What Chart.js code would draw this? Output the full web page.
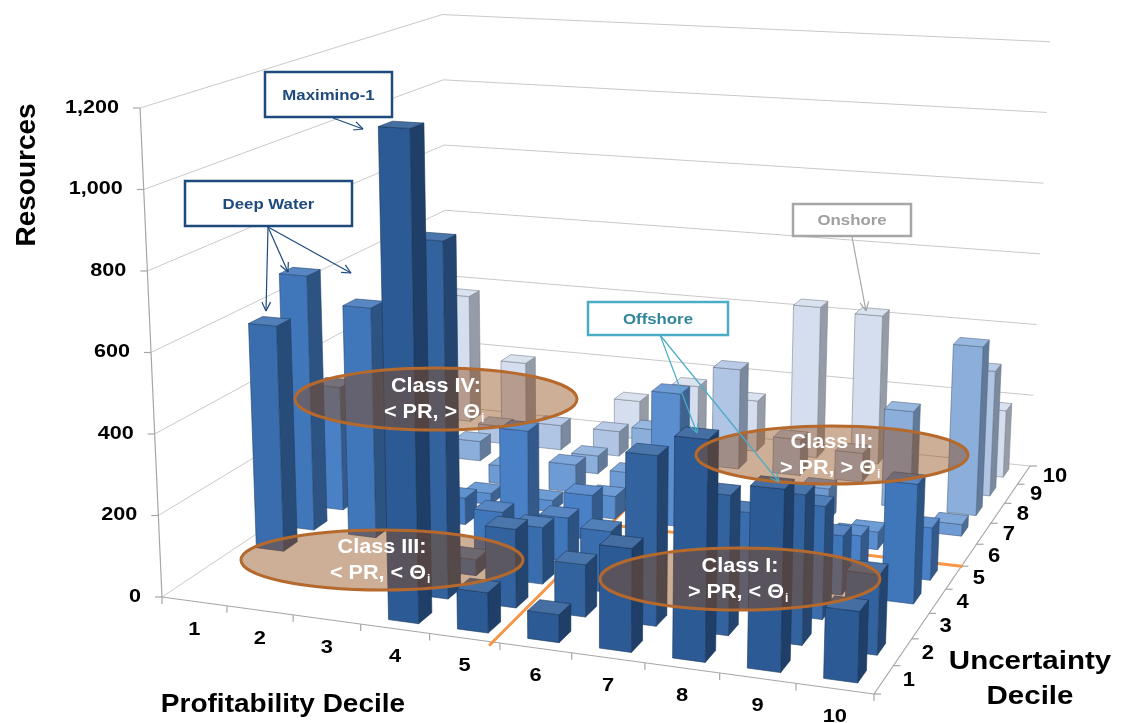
<!DOCTYPE html>
<html>
<head>
<meta charset="utf-8">
<script src="https://cdn.jsdelivr.net/npm/chart.js@4.4.1/dist/chart.umd.min.js"></script>
<style>
  html, body { margin: 0; padding: 0; background: #fff; }
  #wrap { width: 1122px; height: 723px; }
</style>
</head>
<body>
<div id="wrap"><canvas id="chart" width="1122" height="723"></canvas></div>
<script>
/**
 * 3D column chart: resources by profitability decile x uncertainty decile
 */
const profitDeciles = [1, 2, 3, 4, 5, 6, 7, 8, 9, 10];
const uncertaintyDeciles = [1, 2, 3, 4, 5, 6, 7, 8, 9, 10];
const resourceTicks = [0, 200, 400, 600, 800, 1000, 1200];

// resources per profitability decile, one row per uncertainty decile
const resU1  = [0, 0, 0, 1180, 95, 65, 240, 510, 415, 160];
const resU2  = [0, 0, 0, 875, 190, 125, 405, 330, 350, 185];
const resU3  = [580, 0, 0, 40, 140, 150, 0, 235, 270, 0];
const resU4  = [670, 600, 0, 105, 110, 0, 0, 0, 145, 290];
const resU5  = [330, 0, 70, 265, 115, 0, 0, 0, 90, 130];
const resU6  = [0, 0, 30, 30, 60, 350, 0, 0, 45, 0];
const resU7  = [0, 0, 50, 75, 70, 0, 0, 85, 0, 30];
const resU8  = [0, 55, 0, 50, 140, 0, 0, 0, 260, 450];
const resU9  = [0, 50, 70, 70, 0, 280, 100, 80, 0, 340];
const resU10 = [375, 190, 0, 110, 170, 145, 430, 420, 0, 185];

const rows = [resU1, resU2, resU3, resU4, resU5, resU6, resU7, resU8, resU9, resU10];
const rowColors = ['#2C5A95', '#32639F', '#396DAD', '#4076BA', '#4A81C6',
                   '#5A8ECF', '#6F9BD4', '#8BAEDB', '#B0C4E3', '#D5DEEE'];

const classLabels = [
  { title: 'Class IV:', rule: ['< PR, > Θ', 'i'], cx: 436, cy: 399, rx: 141, ry: 31 },
  { title: 'Class III:', rule: ['< PR, < Θ', 'i'], cx: 382, cy: 560, rx: 141, ry: 30 },
  { title: 'Class I:', rule: ['> PR, < Θ', 'i'], cx: 740, cy: 579, rx: 140, ry: 31 },
  { title: 'Class II:', rule: ['> PR, > Θ', 'i'], cx: 832, cy: 455, rx: 136, ry: 29 },
];

const callouts = [
  { text: 'Maximino-1', box: [265, 72, 127, 45], color: '#1F4A7E', text_color: '#1F4A7E',
    from: [333, 118], to: [[363, 129]] },
  { text: 'Deep Water', box: [185, 181, 167, 45], color: '#1F4A7E', text_color: '#1F4A7E',
    from: [268, 227], to: [[266, 311], [288, 272], [351, 273]] },
  { text: 'Offshore', box: [588, 302, 140, 33], color: '#4BACC6', text_color: '#31869B',
    from: [660, 335], to: [[697, 433], [779, 482]] },
  { text: 'Onshore', box: [793, 204, 118, 32], color: '#A6A6A6', text_color: '#A0A0A0',
    from: [852, 237], to: [[866, 311]] },
];

// floor corners on screen (front-left, front-right, back-right, back-left)
const FLOOR = { fl: [162, 597], fr: [874, 694], br: [1030, 466], bl: [448, 406] };
const KEY_X = 584, KEY_D = 9400;   // slight keystone of the verticals
const BAR_FRAC = 0.44;
const TEXT_SX = 1.15;
const FONT = '"Liberation Sans", Arial, sans-serif';

const squareToQuad = (p0, p1, p2, p3) => {
  const dx1 = p1[0] - p2[0], dx2 = p3[0] - p2[0], dx3 = p0[0] - p1[0] + p2[0] - p3[0];
  const dy1 = p1[1] - p2[1], dy2 = p3[1] - p2[1], dy3 = p0[1] - p1[1] + p2[1] - p3[1];
  const den = dx1 * dy2 - dx2 * dy1;
  const g = (dx3 * dy2 - dx2 * dy3) / den;
  const h = (dx1 * dy3 - dx3 * dy1) / den;
  return {
    a: p1[0] - p0[0] + g * p1[0], b: p3[0] - p0[0] + h * p3[0], c: p0[0],
    d: p1[1] - p0[1] + g * p1[1], e: p3[1] - p0[1] + h * p3[1], f: p0[1], g, h,
  };
};
const H = squareToQuad(FLOOR.fl, FLOOR.fr, FLOOR.br, FLOOR.bl);

const shade = (hex, k) => {
  const n = parseInt(hex.slice(1), 16);
  const ch = [(n >> 16) & 255, (n >> 8) & 255, n & 255].map((c) =>
    Math.max(0, Math.min(255, Math.round(k >= 1 ? c + (255 - c) * (k - 1) : c * k))));
  return `rgb(${ch[0]},${ch[1]},${ch[2]})`;
};

const text = (ctx, str, x, y, font, color, align = 'center', sx = TEXT_SX) => {
  ctx.save();
  ctx.font = font;
  ctx.fillStyle = color;
  ctx.textAlign = align;
  ctx.textBaseline = 'middle';
  ctx.translate(x, y);
  ctx.scale(sx, 1);
  ctx.fillText(str, 0, 0);
  ctx.restore();
};

const line = (ctx, a, b, color, width) => {
  ctx.beginPath();
  ctx.moveTo(a[0], a[1]);
  ctx.lineTo(b[0], b[1]);
  ctx.strokeStyle = color;
  ctx.lineWidth = width;
  ctx.stroke();
};

const arrow = (ctx, a, b, color) => {
  line(ctx, a, b, color, 1.2);
  const ang = Math.atan2(b[1] - a[1], b[0] - a[0]);
  [-0.45, 0.45].forEach((d) => {
    line(ctx, b, [b[0] - 10 * Math.cos(ang + d), b[1] - 10 * Math.sin(ang + d)], color, 1.2);
  });
};

const poly = (ctx, pts, fill, stroke) => {
  ctx.beginPath();
  pts.forEach((p, i) => (i ? ctx.lineTo(p[0], p[1]) : ctx.moveTo(p[0], p[1])));
  ctx.closePath();
  ctx.fillStyle = fill;
  ctx.fill();
  if (stroke) { ctx.strokeStyle = stroke; ctx.lineWidth = 0.6; ctx.stroke(); }
};

const bars3d = {
  id: 'bars3d',
  afterDraw(chart) {
    const { ctx, chartArea: area } = chart;
    const xs = chart.scales.x, us = chart.scales.u, ys = chart.scales.y;
    const sOf = (p) => (xs.getPixelForValue(p) - area.left) / area.width;
    const tOf = (u) => (us.getPixelForValue(u) - area.left) / area.width;

    // floor (s,t) + value -> screen
    const proj = (s, t, v) => {
      const w = H.g * s + H.h * t + 1;
      const x = (H.a * s + H.b * t + H.c) / w;
      const y = (H.d * s + H.e * t + H.f) / w;
      const hp = (ys.getPixelForValue(0) - ys.getPixelForValue(v)) / w;
      return [x + (x - KEY_X) * hp / KEY_D, y - hp];
    };

    ctx.save();

    // wall gridlines
    resourceTicks.forEach((v) => {
      line(ctx, proj(0, 0, v), proj(0, 1, v), '#C9C9C9', 1);
      line(ctx, proj(0, 1, v), proj(1, 1, v), '#C9C9C9', 1);
    });

    // vertical axis with ticks and labels
    const yMax = resourceTicks[resourceTicks.length - 1];
    line(ctx, proj(0, 0, 0), proj(0, 0, yMax), '#A6A6A6', 1.2);
    resourceTicks.forEach((v) => {
      const p = proj(0, 0, v);
      line(ctx, [p[0] - 7, p[1]], p, '#A6A6A6', 1.2);
      text(ctx, v.toLocaleString('en-US'), p[0] - 21, p[1], `bold 18px ${FONT}`, '#000', 'right', 1.2);
    });

    // floor edges with ticks
    const s0 = sOf(0.5), s1 = sOf(10.5), t0 = tOf(0.5), t1 = tOf(10.5);
    line(ctx, proj(s0, t0, 0), proj(s1, t0, 0), '#A6A6A6', 1.2);
    line(ctx, proj(s1, t0, 0), proj(s1, t1, 0), '#A6A6A6', 1.2);
    for (let k = 0; k <= profitDeciles.length; k++) {
      const p = proj(sOf(k + 0.5), t0, 0);
      line(ctx, p, [p[0], p[1] + 7], '#A6A6A6', 1.2);
      const q = proj(s1, tOf(k + 0.5), 0);
      line(ctx, q, [q[0] + 7, q[1]], '#A6A6A6', 1.2);
    }
    profitDeciles.forEach((p) => {
      const pt = proj(sOf(p), t0, 0);
      text(ctx, String(p), pt[0], pt[1] + 28, `bold 19px ${FONT}`, '#000');
    });
    uncertaintyDeciles.forEach((u) => {
      const pt = proj(s1, tOf(u), 0);
      text(ctx, String(u), pt[0] + 19, pt[1] + 1, `bold 20px ${FONT}`, '#000', 'left', 1.1);
    });

    // class threshold lines on the floor
    ctx.lineCap = 'round';
    line(ctx, proj(0.49, -0.01, 0), proj(0.47, 0.6, 0), '#F79646', 3);
    line(ctx, proj(0.24, 0.5, 0), proj(1.0, 0.5, 0), '#F79646', 3);
    ctx.lineCap = 'butt';

    // bars, back to front
    const half = (BAR_FRAC * (sOf(1.5) - sOf(0.5))) / 2;
    const bars = [];
    chart.data.datasets.forEach((ds, i) => {
      ds.data.forEach((pt) => {
        if (pt.y > 0) bars.push({ s: sOf(pt.x), t: tOf(ds.u), v: pt.y, color: rowColors[i] });
      });
    });
    bars.sort((a, b) => (b.t - a.t) || (a.s - b.s));
    bars.forEach((b) => {
      const sa = b.s - half, sb = b.s + half, ta = b.t - half, tb = b.t + half;
      const f0 = proj(sa, ta, 0), f1 = proj(sb, ta, 0), r1 = proj(sb, tb, 0);
      const T00 = proj(sa, ta, b.v), T10 = proj(sb, ta, b.v);
      const T11 = proj(sb, tb, b.v), T01 = proj(sa, tb, b.v);
      const edge = shade(b.color, 0.6);
      poly(ctx, [f1, r1, T11, T10], shade(b.color, 0.7), edge);
      poly(ctx, [f0, f1, T10, T00], b.color, edge);
      poly(ctx, [T00, T10, T11, T01], shade(b.color, 1.12), edge);
    });

    // class ellipses
    classLabels.forEach((c) => {
      ctx.beginPath();
      ctx.ellipse(c.cx, c.cy, c.rx, c.ry, 0, 0, Math.PI * 2);
      ctx.fillStyle = 'rgba(145,75,25,0.45)';
      ctx.fill();
      ctx.strokeStyle = '#B5692C';
      ctx.lineWidth = 3;
      ctx.stroke();
      text(ctx, c.title, c.cx, c.cy - 13, `bold 20px ${FONT}`, '#fff', 'center', 1.08);
      ctx.save();
      ctx.font = `bold 20px ${FONT}`;
      const wMain = ctx.measureText(c.rule[0]).width * 1.08;
      ctx.restore();
      text(ctx, c.rule[0], c.cx - 4 - wMain / 2, c.cy + 13, `bold 20px ${FONT}`, '#fff', 'left', 1.08);
      text(ctx, c.rule[1], c.cx - 3 + wMain / 2, c.cy + 20, `bold 12px ${FONT}`, '#fff', 'left', 1.0);
    });

    // callout boxes with arrows
    callouts.forEach((c) => {
      c.to.forEach((pt) => arrow(ctx, c.from, pt, c.color));
      const [bx, by, bw, bh] = c.box;
      ctx.fillStyle = '#fff';
      ctx.fillRect(bx, by, bw, bh);
      ctx.strokeStyle = c.color;
      ctx.lineWidth = 2.5;
      ctx.strokeRect(bx, by, bw, bh);
      text(ctx, c.text, bx + bw / 2, by + bh / 2 + 1, `bold 15px ${FONT}`, c.text_color, 'center', 1.12);
    });

    // axis titles
    ctx.save();
    ctx.translate(27, 175);
    ctx.rotate(-Math.PI / 2);
    ctx.font = `bold 28px ${FONT}`;
    ctx.fillStyle = '#000';
    ctx.textAlign = 'center';
    ctx.textBaseline = 'middle';
    ctx.fillText('Resources', 0, 0);
    ctx.restore();
    text(ctx, 'Profitability Decile', 283, 705, `bold 25px ${FONT}`, '#000', 'center', 1.12);
    text(ctx, 'Uncertainty', 1030, 662, `bold 25px ${FONT}`, '#000', 'center', 1.18);
    text(ctx, 'Decile', 1030, 697, `bold 25px ${FONT}`, '#000', 'center', 1.18);

    ctx.restore();
  },
};

const chart = new Chart(document.getElementById('chart'), {
  type: 'scatter',
  data: {
    datasets: rows.map((vals, i) => ({
      label: `Uncertainty decile ${uncertaintyDeciles[i]}`,
      u: uncertaintyDeciles[i],
      data: vals.map((v, j) => ({ x: profitDeciles[j], y: v })),
      pointRadius: 0,
      backgroundColor: rowColors[i],
    })),
  },
  options: {
    responsive: false,
    animation: false,
    layout: { padding: { left: 162, right: 248, top: 108, bottom: 126 } },
    plugins: { legend: { display: false }, tooltip: { enabled: false } },
    scales: {
      x: { type: 'linear', min: 0.5, max: 10.5, display: false },
      u: { type: 'linear', axis: 'x', position: 'bottom', min: 0.5, max: 10.5, display: false },
      y: { type: 'linear', min: 0, max: 1200, display: false },
    },
  },
  plugins: [bars3d],
});
</script>
</body>
</html>
